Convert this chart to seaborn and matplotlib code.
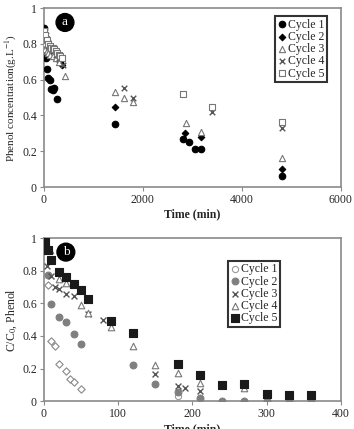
import numpy as np
import pandas as pd
import seaborn as sns
import matplotlib
matplotlib.use("Agg")
import matplotlib.pyplot as plt
from matplotlib.ticker import FuncFormatter

# ---- panel (a): phenol concentration vs time ----
a_c1_t = [0, 10, 20, 30, 40, 55, 90, 120, 150, 180, 210, 260, 1440, 2820, 2940, 3060, 3180, 4820]
a_c1_y = [0.89, 0.86, 0.80, 0.76, 0.72, 0.66, 0.61, 0.60, 0.55, 0.54, 0.555, 0.49, 0.355, 0.27, 0.25, 0.21, 0.21, 0.06]
a_c2_t = [0, 20, 40, 60, 90, 120, 150, 180, 210, 240, 270, 300, 330, 370, 1440, 2860, 3180, 4820]
a_c2_y = [0.88, 0.86, 0.84, 0.82, 0.80, 0.79, 0.78, 0.77, 0.76, 0.75, 0.73, 0.71, 0.70, 0.68, 0.445, 0.30, 0.28, 0.10]
a_c3_t = [0, 30, 60, 90, 120, 180, 240, 300, 420, 1440, 1620, 1800, 2880, 3180, 4820]
a_c3_y = [0.80, 0.77, 0.76, 0.75, 0.74, 0.73, 0.72, 0.70, 0.62, 0.53, 0.50, 0.475, 0.36, 0.31, 0.16]
a_c4_t = [0, 30, 60, 90, 120, 180, 240, 300, 380, 1620, 1800, 3400, 4820]
a_c4_y = [0.85, 0.82, 0.80, 0.79, 0.78, 0.76, 0.74, 0.72, 0.68, 0.555, 0.50, 0.42, 0.33]
a_c5_t = [0, 30, 60, 90, 120, 150, 180, 210, 240, 270, 300, 330, 360, 2810, 3400, 4820]
a_c5_y = [0.87, 0.85, 0.82, 0.80, 0.79, 0.78, 0.78, 0.77, 0.76, 0.75, 0.74, 0.73, 0.72, 0.52, 0.45, 0.365]

# ---- panel (b): C/C0 vs time ----
b_c1_t = [0, 5, 10, 15, 20, 30, 35, 40, 50, 180, 210, 300, 330, 360]
b_c1_y = [1.0, 0.71, 0.37, 0.34, 0.227, 0.184, 0.135, 0.119, 0.074, 0.03, 0.016, 0.0, 0.0, 0.0]
b_c2_t = [0, 5, 10, 20, 30, 40, 50, 120, 150, 180, 210, 240, 270, 300, 330, 360]
b_c2_y = [1.0, 0.775, 0.596, 0.518, 0.488, 0.41, 0.35, 0.221, 0.108, 0.057, 0.02, 0.0, 0.0, 0.0, 0.0, 0.0]
b_c3_t = [0, 4, 10, 15, 20, 30, 40, 60, 80, 150, 180, 190, 210]
b_c3_y = [1.0, 0.826, 0.77, 0.70, 0.686, 0.658, 0.645, 0.535, 0.498, 0.168, 0.092, 0.082, 0.061]
b_c4_t = [0, 8, 20, 30, 50, 60, 90, 120, 150, 180, 210, 270]
b_c4_y = [1.0, 0.924, 0.748, 0.723, 0.59, 0.543, 0.453, 0.34, 0.221, 0.174, 0.113, 0.082]
b_c5_t = [0, 2, 5, 10, 20, 30, 40, 50, 60, 90, 120, 180, 210, 240, 270, 300, 330, 360]
b_c5_y = [1.0, 0.975, 0.93, 0.867, 0.79, 0.764, 0.717, 0.68, 0.625, 0.494, 0.416, 0.225, 0.16, 0.10, 0.108, 0.043, 0.037, 0.037]

sns.set_style("ticks")
plt.rcParams["font.family"] = ["Liberation Serif", "DejaVu Serif"]
plt.rcParams["mathtext.fontset"] = "stix"

fig = plt.figure(figsize=(3.54, 4.29), dpi=100)
ax1 = fig.add_axes([0.124, 0.564, 0.839, 0.417])
ax2 = fig.add_axes([0.124, 0.065, 0.839, 0.380])

grey = "#8a8a8a"
fmt = FuncFormatter(lambda v, p: f"{v:g}")


def pts(ax, t, y, label, marker, face, edge, s=22, lw=0.8):
    sns.scatterplot(x=t, y=y, ax=ax, marker=marker, s=s, color=face,
                    edgecolor=edge, linewidth=lw, label=label, zorder=3)


# panel a
pts(ax1, a_c1_t, a_c1_y, "Cycle 1", "o", "black", "black", s=22)
pts(ax1, a_c2_t, a_c2_y, "Cycle 2", "D", "black", "black", s=11)
pts(ax1, a_c3_t, a_c3_y, "Cycle 3", "^", "white", "#777777", s=20)
pts(ax1, a_c4_t, a_c4_y, "Cycle 4", "x", "#555555", "#555555", s=16, lw=1.0)
pts(ax1, a_c5_t, a_c5_y, "Cycle 5", "s", "white", "#777777", s=20)

# panel b (cycle 1 early samples drawn as diamonds)
t1 = np.array(b_c1_t)
y1 = np.array(b_c1_y)
early = (t1 > 0) & (t1 <= 60)
sns.scatterplot(x=t1[early], y=y1[early], ax=ax2, marker="D", s=14, color="white",
                edgecolor="#888888", linewidth=0.8, zorder=3)
pts(ax2, t1[~early], y1[~early], "Cycle 1", "o", "white", "#999999", s=20)
pts(ax2, b_c2_t, b_c2_y, "Cycle 2", "o", "#7f7f7f", "#7f7f7f", s=24)
pts(ax2, b_c3_t, b_c3_y, "Cycle 3", "x", "#555555", "#555555", s=18, lw=1.0)
pts(ax2, b_c4_t, b_c4_y, "Cycle 4", "^", "white", "#777777", s=22)
pts(ax2, b_c5_t, b_c5_y, "Cycle 5", "s", "#1a1a1a", "#1a1a1a", s=26)

ax1.set_xlim(0, 6000)
ax1.set_xticks([0, 2000, 4000, 6000])
ax2.set_xlim(0, 400)
ax2.set_xticks([0, 100, 200, 300, 400])
for ax in (ax1, ax2):
    ax.set_ylim(0, 1)
    ax.set_yticks([0, 0.2, 0.4, 0.6, 0.8, 1])
    ax.yaxis.set_major_formatter(fmt)
    ax.xaxis.set_major_formatter(fmt)
    for sp in ax.spines.values():
        sp.set_color(grey)
        sp.set_linewidth(1.2)
    ax.tick_params(labelsize=8.5, length=3, width=0.8, color=grey, pad=2)
    ax.set_xlabel("Time (min)", fontsize=8.5, fontweight="bold", labelpad=2)

ax1.set_ylabel("Phenol concentration(g.L$^{-1}$)", fontsize=8, labelpad=2)
ax2.set_ylabel("C/C$_0$, Phenol", fontsize=8.5, labelpad=2)

leg_kw = dict(fontsize=8.5, frameon=True, fancybox=False, handletextpad=0.05,
              handlelength=0.9, borderpad=0.2, labelspacing=0.02, borderaxespad=0)
l1 = ax1.legend(loc="upper right", bbox_to_anchor=(0.953, 0.955), **leg_kw)
l2 = ax2.legend(loc="upper right", bbox_to_anchor=(0.795, 0.86), **leg_kw)
for lg in (l1, l2):
    lg.get_frame().set_edgecolor("black")
    lg.get_frame().set_linewidth(1.5)

circ = dict(boxstyle="circle,pad=0.22", fc="black", ec="black")
ax1.text(0.071, 0.92, "a", transform=ax1.transAxes, color="white", fontsize=9.5,
         ha="center", va="center", bbox=circ, zorder=5)
ax2.text(0.074, 0.914, "b", transform=ax2.transAxes, color="white", fontsize=9.5,
         ha="center", va="center", bbox=circ, zorder=5)

fig.savefig("out.png", dpi=100)
